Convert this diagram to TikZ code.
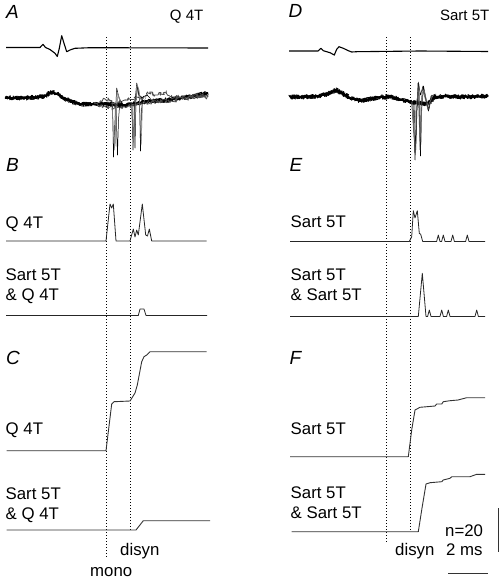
\documentclass[tikz,border=0pt]{standalone}
\usepackage{fontspec}
\setmainfont{Liberation Sans}
\usetikzlibrary{decorations.pathmorphing}
\begin{document}
\begin{tikzpicture}[x=1pt,y=-1pt,
  lbl/.style={inner sep=0pt, anchor=base west, font=\fontsize{16.8}{20}\selectfont},
  toplbl/.style={inner sep=0pt, anchor=base east, font=\fontsize{15}{18}\selectfont},
  panel/.style={inner sep=0pt, anchor=base west, font=\fontsize{19}{22}\selectfont\itshape},
  hist/.style={line width=0.8pt, line join=round, black!85},
  cum/.style={line width=0.9pt, line join=round, black!80},
  vdot/.style={line width=0.8pt, dash pattern=on 0.8pt off 2.2pt},
  trace/.style={line width=1.1pt, line join=round},
  noisy/.style={line width=0.8pt, line join=round, decorate, decoration={random steps, segment length=1pt, amplitude=2.2pt}},
  spk/.style={line width=0.5pt, line join=round},
  bar/.style={line width=0.8pt, black!80}]
\useasboundingbox (0,0) rectangle (502,581);
\pgfmathsetseed{7}
% ---------------- dotted reference lines
\coordinate (l1t) at (106,37); \coordinate (l1b) at (106,558);
\coordinate (l2t) at (130,37); \coordinate (l2b) at (130,530);
\coordinate (r1t) at (386,37); \coordinate (r1b) at (386,542);
\coordinate (r2t) at (410,37); \coordinate (r2b) at (410,530);
\draw[vdot] (l1t) -- (l1b);
\draw[vdot] (l2t) -- (l2b);
\draw[vdot] (r1t) -- (r1b);
\draw[vdot] (r2t) -- (r2b);
% ---------------- labels
\node[panel] (pA) at (6,18.3) {A};
\node[toplbl] (tA) at (203.5,20.5) {Q 4T};
\node[panel] (pB) at (6,171.7) {B};
\node[lbl] (bq) at (5.5,228.3) {Q 4T};
\node[lbl] (bs1) at (5.5,280.7) {Sart 5T};
\node[lbl] (bs2) at (5.5,300.7) {\& Q 4T};
\node[panel] (pC) at (6,364.3) {C};
\node[lbl] (cq) at (5.5,434) {Q 4T};
\node[lbl] (cs1) at (5.5,499) {Sart 5T};
\node[lbl] (cs2) at (5.5,519) {\& Q 4T};
\node[lbl] (cdis) at (120,555.5) {disyn};
\node[lbl] (cmono) at (90,576.5) {mono};
\node[panel] (pD) at (288.5,17.3) {D};
\node[toplbl] (tD) at (489.5,20.7) {Sart 5T};
\node[panel] (pE) at (289.5,171.7) {E};
\node[lbl] (es) at (290.5,227.7) {Sart 5T};
\node[lbl] (es1) at (290.5,280.7) {Sart 5T};
\node[lbl] (es2) at (290.5,300.7) {\& Sart 5T};
\node[panel] (pF) at (289.5,364.3) {F};
\node[lbl] (fs) at (290.5,434) {Sart 5T};
\node[lbl] (fs1) at (290.5,498.3) {Sart 5T};
\node[lbl] (fs2) at (290.5,518.3) {\& Sart 5T};
\node[lbl] (fdis) at (395,555.5) {disyn};
\node[lbl] (fn) at (445,536.7) {n=20};
\node[lbl] (fms) at (446,555.5) {2 ms};
% scale bars
\coordinate (vb1) at (498,508); \coordinate (vb2) at (498,552);
\coordinate (hb1) at (448,573); \coordinate (hb2) at (488,573);
\draw[bar] (vb1) -- (vb2);
\draw[bar] (hb1) -- (hb2);
% ---------------- A top trace
\draw[trace] (6,47.5) -- (40,47.5) -- (43,44.3) -- (45.5,47.5) -- (50,49.5) -- (55,53.3) -- (57.3,56.5) -- (59.3,48.3) -- (61.7,35.7) -- (64,43.3) -- (66.7,51.7) -- (70,50) -- (75,48.3) -- (90,47.7) -- (208,48);
% ---------------- A second trace (overlaid sweeps)
\def\abase{(5,98) -- (25,98) -- (38,97) -- (45,96) -- (52,92) -- (57,94) -- (62,97) -- (70,101) -- (80,104) -- (92,104) -- (100,104) -- (108,104) -- (115,105) -- (125,105) -- (132,104) -- (140,103) -- (150,101) -- (165,100) -- (180,98) -- (195,96) -- (208,93)}
\draw[line width=1.8pt, line join=round] \abase;
\draw[noisy] \abase;
\draw[noisy] \abase;
\draw[noisy] \abase;
\draw[noisy] \abase;
\draw[noisy, black!70] (100,102) -- (105,99) -- (110,101) -- (118,103) -- (126,100) -- (140,98) -- (148,93) -- (158,95) -- (166,93) -- (174,98) -- (182,97) -- (195,95) -- (208,97);
\draw[noisy, black!70] (95,104) -- (104,106) -- (112,108) -- (122,107) -- (135,106) -- (145,103) -- (160,101) -- (175,100) -- (190,98) -- (208,95);
% spikes
\draw[spk] (110,104) -- (112.5,106) -- (113.5,157) -- (114.5,130) -- (116.7,88) -- (119,98) -- (122,104);
\draw[spk] (114,105) -- (116,108) -- (117.5,155) -- (118.5,120) -- (120,100) -- (123,104);
\draw[spk, black!55] (111,103) -- (115,104) -- (115.8,146) -- (116.6,110) -- (118,94) -- (121,102);
\draw[spk, black!45] (112,104) -- (114.6,150) -- (115.6,112) -- (117.2,92) -- (120.5,103);
\draw[spk] (130,104) -- (132,105) -- (133,150) -- (134.3,110) -- (136.7,83) -- (139,95) -- (142,98) -- (144,96);
\draw[spk] (134,104) -- (135,148) -- (136,100) -- (137.5,86) -- (139.5,100) -- (140.5,151) -- (141.5,110) -- (143,97) -- (147,95) -- (150,98);
\draw[spk, black!60] (131,103) -- (133.5,142) -- (135,104) -- (138,88) -- (141,100) -- (145,96);
\draw[spk, black!50] (132,104) -- (134,146) -- (135.5,108) -- (137,84) -- (139,90) -- (141.2,145) -- (142.5,105) -- (146,97);
% ---------------- D top trace
\draw[trace] (289,51) -- (318,51) -- (321,48.3) -- (323.3,50.7) -- (330,52.7) -- (334.3,55) -- (336.7,49.3) -- (339,46.7) -- (343.3,48.3) -- (348.3,50.7) -- (351.7,52) -- (356.7,51.7) -- (420,51) -- (488,51.5);
% ---------------- D second trace
\def\dbase{(290,97) -- (305,97) -- (318,96) -- (328,94) -- (336,90) -- (342,93) -- (350,98) -- (360,101) -- (370,99) -- (380,97) -- (392,97) -- (402,100) -- (412,102) -- (428,104) -- (434,97) -- (445,96) -- (460,97) -- (488,96)}
\draw[line width=1.8pt, line join=round] \dbase;
\draw[noisy] \dbase;
\draw[noisy] \dbase;
\draw[noisy] \dbase;
\draw[noisy] \dbase;
\draw[spk] (410,101) -- (413,103) -- (415,160) -- (416.5,115) -- (418.3,82) -- (420.5,95) -- (423,86) -- (426,100) -- (428.5,111) -- (431,96) -- (436,94);
\draw[spk] (411,100) -- (414,104) -- (415.8,150) -- (417,110) -- (418.8,84) -- (419.8,130) -- (420.5,156) -- (421.5,110) -- (423.5,86) -- (427,104) -- (429,109) -- (432,95);
\draw[spk, black!55] (412,101) -- (414.5,140) -- (416,105) -- (419,88) -- (421,142) -- (422,100) -- (424,90) -- (428,106) -- (433,95);
\draw[spk, black!70] (411.5,102) -- (415.3,155) -- (416.8,108) -- (418,83) -- (420,150) -- (421,104) -- (422.5,88) -- (425,98) -- (428,110) -- (432,97);
% ---------------- B histograms
\draw[hist] (6,241) -- (106,241) -- (110,204) -- (111.7,208) -- (113.3,204) -- (116,241) -- (130,241) -- (133.3,229) -- (135,237) -- (136.7,230) -- (138.3,235) -- (142.3,204) -- (145.7,235) -- (147.5,236) -- (149.3,229) -- (151.7,241) -- (206.7,241);
\draw[hist] (6,315.5) -- (138.3,315.5) -- (140,309) -- (144,309) -- (146,315.5) -- (207,315.5);
% ---------------- E histograms
\draw[hist] (290,241.5) -- (409.3,241.5) -- (411.7,236.7) -- (413.3,210.7) -- (415,218) -- (417.3,210.7) -- (419.3,233.3) -- (420.7,234.3) -- (422.7,241.5)
  -- (436.6,241.5) -- (438.3,235) -- (440,241.5) -- (441.6,241.5) -- (443.3,235) -- (445,241.5)
  -- (451,241.5) -- (452.7,235) -- (454.4,241.5) -- (465.6,241.5) -- (467.3,235) -- (469,241.5) -- (485,241.5);
\draw[hist] (290,316.5) -- (418.3,316.5) -- (422.3,273.3) -- (426,316.5)
  -- (427.6,316.5) -- (429.3,310) -- (431,316.5) -- (440,316.5) -- (441.7,310) -- (443.4,316.5)
  -- (446.6,316.5) -- (448.3,310) -- (450,316.5) -- (475,316.5) -- (476.7,310) -- (478.4,316.5) -- (485,316.5);
% ---------------- C cumulative sums
\draw[cum] (6.5,450.7) -- (106,450.7) -- (111.7,404) -- (114,401.7) -- (130,401) -- (132.7,396.7) -- (135,393) -- (137.3,385) -- (141.7,361.7) -- (144,356.7) -- (146.7,355) -- (150,351.7) -- (206.7,351.7);
\draw[cum] (6.7,530) -- (136,530) -- (143.3,520.7) -- (210,520.7);
% ---------------- F cumulative sums
\draw[cum] (290,456.7) -- (408.3,456.7) -- (411.7,430) -- (415,410) -- (420,407.3) -- (435,406) -- (436.7,404) -- (441.7,404) -- (443.3,401.7) -- (450,400.7) -- (458,400) -- (466.7,397.7) -- (485,397.7);
\draw[cum] (291.7,531.7) -- (418.3,531.7) -- (421.7,510) -- (426,484) -- (430,482.7) -- (441.7,481.7) -- (443.3,480) -- (450,478.3) -- (451.7,476.7) -- (470,476.7) -- (476.7,474.3) -- (485,474.3);
\end{tikzpicture}
\end{document}
